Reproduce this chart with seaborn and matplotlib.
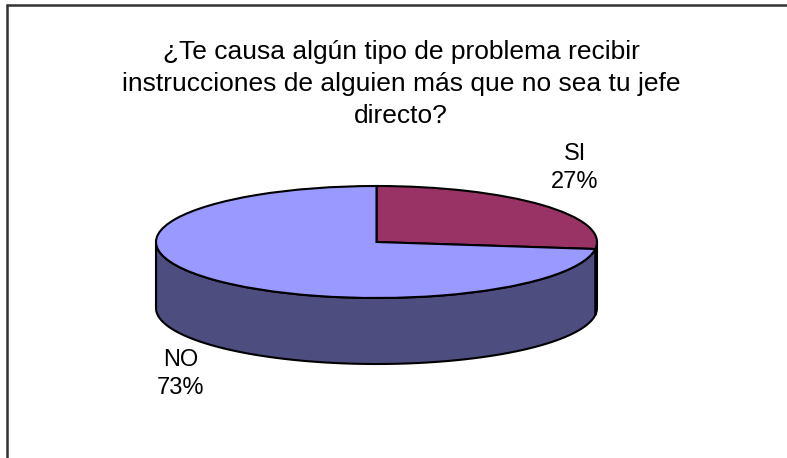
import numpy as np
import matplotlib
matplotlib.use('Agg')
import matplotlib.pyplot as plt
from matplotlib.patches import Polygon
from matplotlib.lines import Line2D
import seaborn as sns

# data
labels = ['SI', 'NO']
values = [27, 73]
title = u'\u00bfTe causa alg\u00fan tipo de problema recibir\ninstrucciones de alguien m\u00e1s que no sea tu jefe\ndirecto?'

top_colors = ['#993366', '#9999FF']
side_colors = ['#4D1A33', '#4D4D80']

sns.set_theme(style='white')
plt.rcParams['font.family'] = ['Liberation Sans', 'DejaVu Sans']

W, H = 787, 458
fig = plt.figure(figsize=(W / 100, H / 100), dpi=100)
ax = fig.add_axes([0, 0, 1, 1])

# pixel geometry of the pie (centre, semi axes, depth)
cx, cy, a, b, depth = 376.5, 242, 220.5, 56, 66
d = depth / b

# side wall (front half only), slices go clockwise from 12 o'clock
fracs = np.array(values) / sum(values)
start = 90.0
for i, f in enumerate(fracs):
    t1 = start - f * 360
    ang_lo, ang_hi = t1, start
    if ang_lo < 0:
        ang_lo, ang_hi = ang_lo + 360, ang_hi + 360
    lo = max(ang_lo, 180)
    hi = min(ang_hi, 360)
    if hi > lo:
        th = np.radians(np.linspace(lo, hi, 200))
        xs = np.cos(th)
        ys = np.sin(th)
        pts = np.concatenate([np.c_[xs, ys], np.c_[xs[::-1], ys[::-1] - d]])
        ax.add_patch(Polygon(pts, closed=True, facecolor=side_colors[i],
                             edgecolor='black', lw=1.5, zorder=1))
    start = t1

# top face
ax.pie(values, colors=top_colors, startangle=90, counterclock=False,
       radius=1, center=(0, 0), frame=True,
       wedgeprops=dict(edgecolor='black', linewidth=1.5, zorder=2))

ax.set_aspect('auto')
ax.set_xlim(-cx / a, (W - cx) / a)
ax.set_ylim((cy - H) / b, cy / b)
ax.axis('off')

# labels
fig.text(575 / W, 1 - 168 / H, 'SI\n27%', ha='center', va='center',
         fontsize=17, linespacing=1.3, color='black')
fig.text(181 / W, 1 - 374 / H, 'NO\n73%', ha='center', va='center',
         fontsize=17, linespacing=1.3, color='black')

# title
fig.text(401 / W, 1 - 84 / H, title, ha='center', va='center',
         fontsize=19, linespacing=1.43, color='black')

# chart area border (top and left visible)
fig.add_artist(Line2D([7 / W, 1], [1 - 4.5 / H, 1 - 4.5 / H], transform=fig.transFigure,
                      color='#333333', lw=1.8))
fig.add_artist(Line2D([7 / W, 7 / W], [0, 1 - 4.5 / H], transform=fig.transFigure,
                      color='#333333', lw=1.8))

fig.savefig('out.png', dpi=100, facecolor='white')
